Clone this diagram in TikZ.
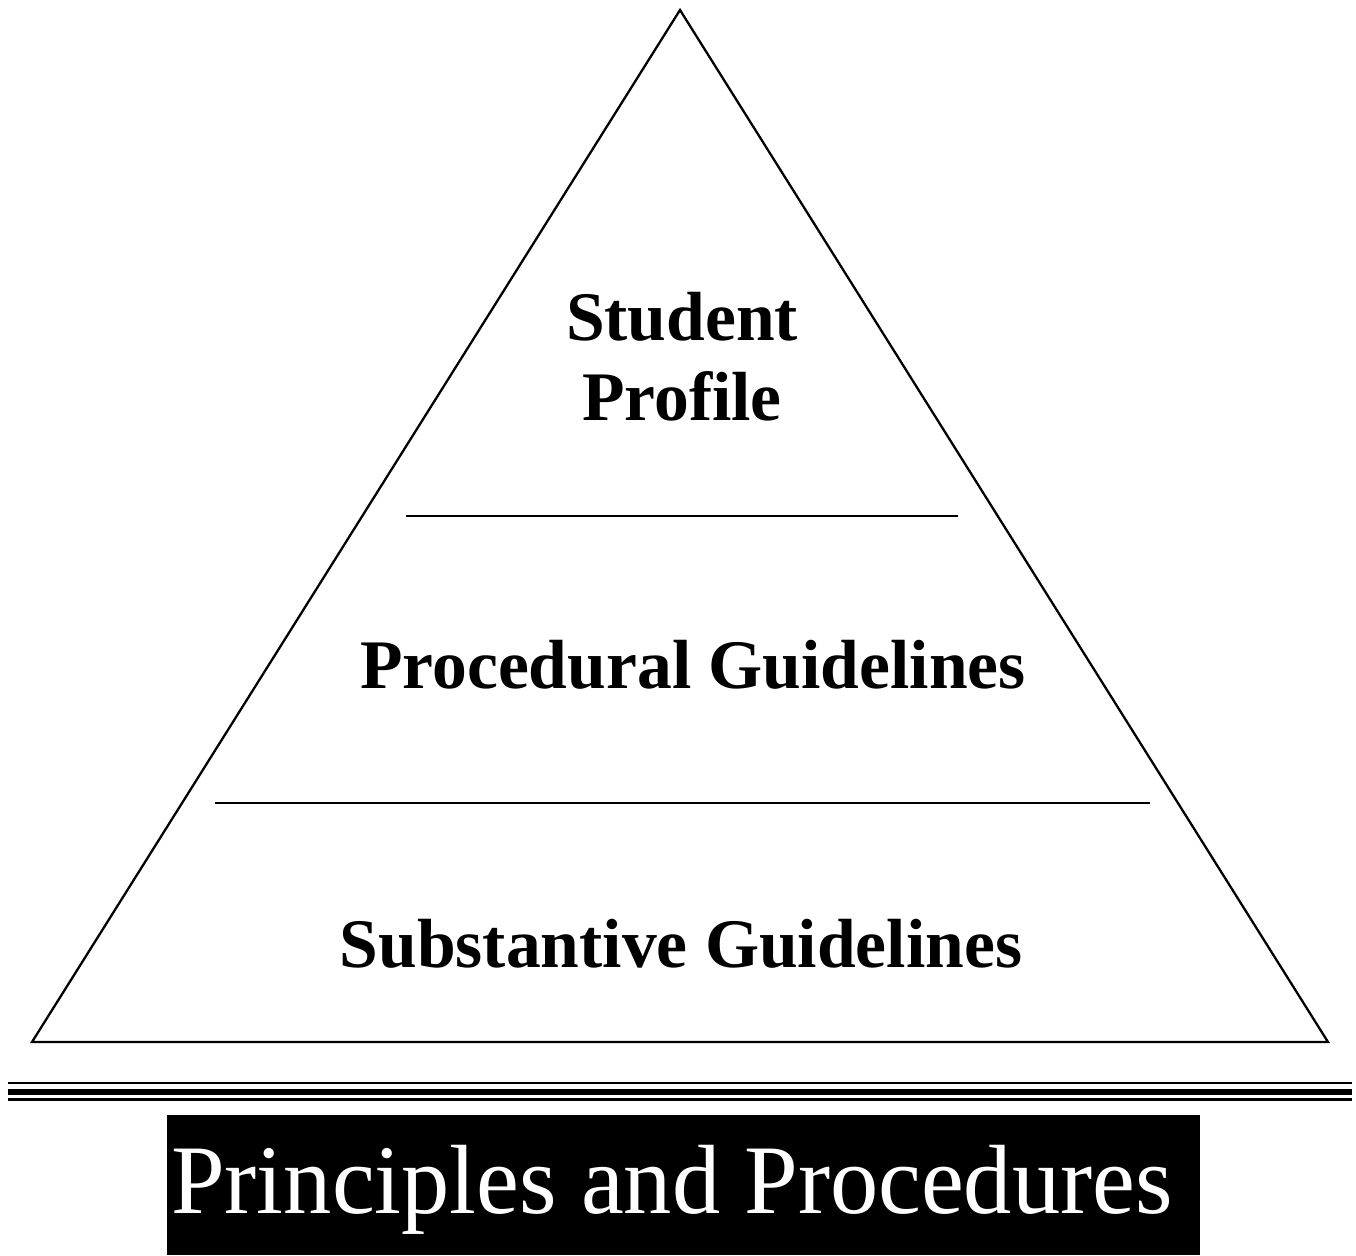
\documentclass[tikz,border=0pt]{standalone}
\usepackage{fontspec}
\setmainfont{Liberation Serif}
\tikzset{
  layer/.style={font=\bfseries\fontsize{39.6}{45.5}\selectfont, align=center, anchor=base},
  banner/.style={font=\fontsize{56}{60}\selectfont, text=white, anchor=base}
}
\begin{document}
\begin{tikzpicture}[x=0.02cm,y=-0.02cm]
\useasboundingbox (0,0) rectangle (1356,1255);
% the pyramid and its two dividers
\draw[line width=1.3pt, line join=miter] (680,10) -- (32,1042) -- (1328,1042) -- cycle;
\draw[line width=1.3pt] (406,516) -- (958,516);
\draw[line width=1.3pt] (215,803) -- (1150,803);
\node[layer] (profile) at (682,420) {Student\\Profile};
\node[layer] (procedural) at (693,688) {Procedural Guidelines};
\node[layer] (substantive) at (681,967) {Substantive Guidelines};
% base rule
\draw[line width=1.3pt] (8,1083) -- (1352,1083);
\draw[line width=3pt] (8,1092) -- (1352,1092);
\draw[line width=1.3pt] (8,1099.5) -- (1352,1099.5);
% foundation banner
\fill (167,1115) rectangle (1200,1255);
\node[banner, xscale=0.98] (principles) at (672,1213) {Principles and Procedures};
\end{tikzpicture}
\end{document}
